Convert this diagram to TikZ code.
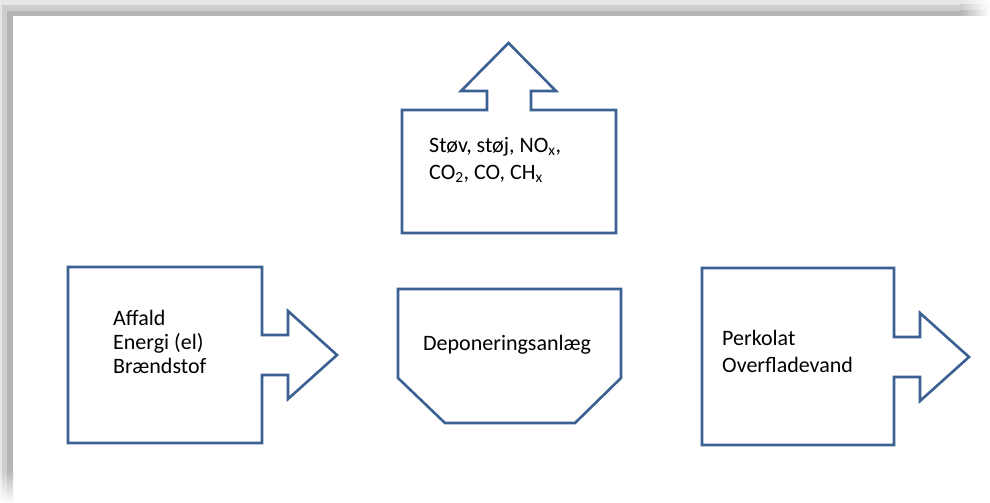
\documentclass[tikz,border=0pt]{standalone}
\usepackage{fontspec}
\setmainfont{Carlito}
\definecolor{edge}{HTML}{3A6191}
\definecolor{fa}{HTML}{E6E6E6}
\definecolor{fb}{HTML}{CDCDCD}
\definecolor{fc}{HTML}{B5B5B5}
\begin{document}
\begin{tikzpicture}[x=1pt,y=-1pt,
  shapeline/.style={draw=edge,line width=2.6pt,line join=miter,fill=white},
  lbl/.style={inner sep=0pt,align=left,anchor=base west},
  fsA/.style={font=\fontsize{22}{24}\selectfont},
  fsB/.style={font=\fontsize{22}{27}\selectfont}]
\useasboundingbox (0,0) rectangle (990,503);
\fill[white] (0,0) rectangle (990,503);
% shadow frame
\fill[fa] (0,0) rectangle (960,5);
\fill[fb] (5,5) rectangle (960,11);
\fill[fc] (13,11) rectangle (960,16);
\shade[left color=fa,right color=white] (960,0) rectangle (990,5);
\shade[left color=fb,right color=white] (960,5) rectangle (990,11);
\shade[left color=fc,right color=white] (960,11) rectangle (990,16);
\fill[fa] (0,0) rectangle (2,470);
\fill[fb] (2,5) rectangle (7,470);
\fill[fc] (7,11) rectangle (13,470);
\shade[top color=fa,bottom color=white] (0,470) rectangle (2,503);
\shade[top color=fb,bottom color=white] (2,470) rectangle (7,503);
\shade[top color=fc,bottom color=white] (7,470) rectangle (13,503);
% left input arrow box
\draw[shapeline] (68,267) -- (262,267) -- (262,335) -- (288,335) -- (288,311)
  -- (337,355) -- (288,399) -- (288,375) -- (262,375) -- (262,443) -- (68,443) -- cycle;
% top emission box
\draw[shapeline] (402,233) -- (402,110) -- (487,110) -- (487,91) -- (461,91)
  -- (508.5,43) -- (556,91) -- (531,91) -- (531,110) -- (616,110) -- (616,233) -- cycle;
% middle landfill
\draw[shapeline] (398,289) -- (621,289) -- (621,378) -- (575,423) -- (445,423)
  -- (398,378) -- cycle;
% right output arrow box
\draw[shapeline] (702,268) -- (894,268) -- (894,337) -- (920,337) -- (920,313)
  -- (969,357) -- (920,401) -- (920,377) -- (894,377) -- (894,445) -- (702,445) -- cycle;
% texts (base anchor = baseline of the last line)
\node[lbl,fsB] (emis) at (429,179) {Støv, støj, NO\textsubscript{x},\\CO\textsubscript{2}, CO, CH\textsubscript{x}};
\node[lbl,fsA] (inp) at (113,373) {Affald\\Energi (el)\\Brændstof};
\node[lbl,fsA] (dep) at (423,350) {Deponeringsanlæg};
\node[lbl,fsB] (outp) at (722,372) {Perkolat\\Overfladevand};
\end{tikzpicture}
\end{document}
